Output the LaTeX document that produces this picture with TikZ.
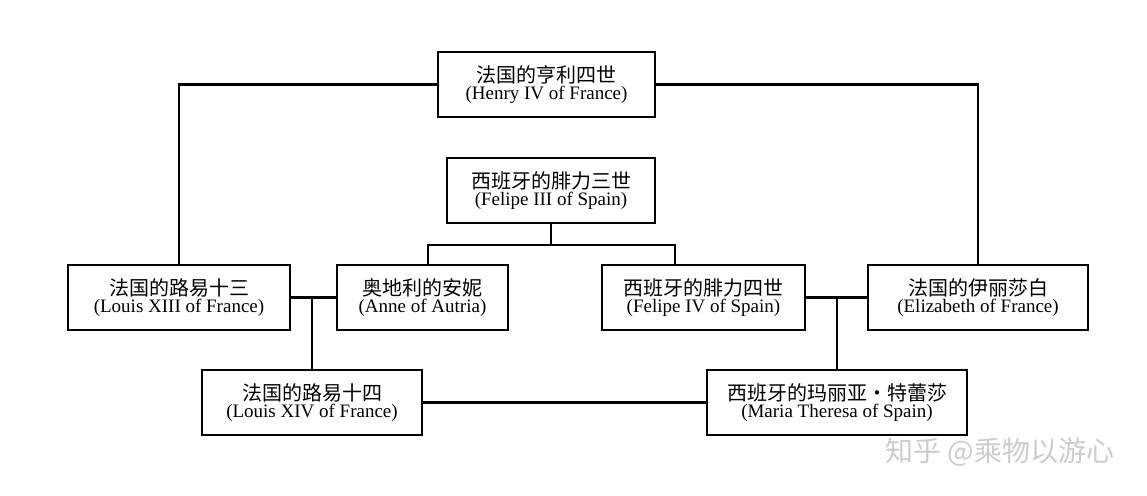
\documentclass[tikz,border=0pt]{standalone}
\usepackage{fontspec}
\setmainfont{Liberation Serif}
\newfontfamily\cjk{Noto Sans CJK SC}
\begin{document}
\begin{tikzpicture}[x=1pt,y=-1pt,
 pbox/.style={draw,line width=1.2pt,minimum height=65pt,align=center,inner sep=0pt},
 link/.style={line width=2.5pt}]
\useasboundingbox (0,0) rectangle (1147,495);
\newcommand{\two}[2]{{\cjk\fontsize{20}{26}\selectfont #1}\\[1pt]{\fontsize{19}{24}\selectfont #2}}
\node[pbox,minimum width=217pt] (hen) at (546.5,84.5) {\two{法国的亨利四世}{(Henry IV of France)}};
\node[pbox,minimum width=208pt] (f3) at (551,190.5) {\two{西班牙的腓力三世}{(Felipe III of Spain)}};
\node[pbox,minimum width=222pt] (l13) at (179,297.5) {\two{法国的路易十三}{(Louis XIII of France)}};
\node[pbox,minimum width=171pt] (ann) at (422.5,297.5) {\two{奥地利的安妮}{(Anne of Autria)}};
\node[pbox,minimum width=203pt] (f4) at (703.5,297.5) {\two{西班牙的腓力四世}{(Felipe IV of Spain)}};
\node[pbox,minimum width=220pt] (eli) at (978,297.5) {\two{法国的伊丽莎白}{(Elizabeth of France)}};
\node[pbox,minimum width=220pt] (l14) at (312,402.5) {\two{法国的路易十四}{(Louis XIV of France)}};
\node[pbox,minimum width=260pt] (mar) at (837,402.5) {\two{西班牙的玛丽亚·特蕾莎}{(Maria Theresa of Spain)}};
\coordinate (j1) at (312,297.5);
\coordinate (j2) at (837,297.5);
\coordinate (j3) at (551,245);
\draw[link] (hen.west) -| (l13.north);
\draw[link] (hen.east) -| (eli.north);
\draw[link] (f3.south) -- (j3);
\draw[link] (j3) -| (428,265);
\draw[link] (j3) -| (675,265);
\draw[link] (l13.east) -- (ann.west);
\draw[link] (j1) -- (l14.north);
\draw[link] (f4.east) -- (eli.west);
\draw[link] (j2) -- (mar.north);
\draw[link] (l14.east) -- (mar.west);
\node[text=gray!40,anchor=east,font=\cjk\fontsize{28}{32}\selectfont] (wm) at (1118,452) {知乎 @乘物以游心};
\end{tikzpicture}
\end{document}
